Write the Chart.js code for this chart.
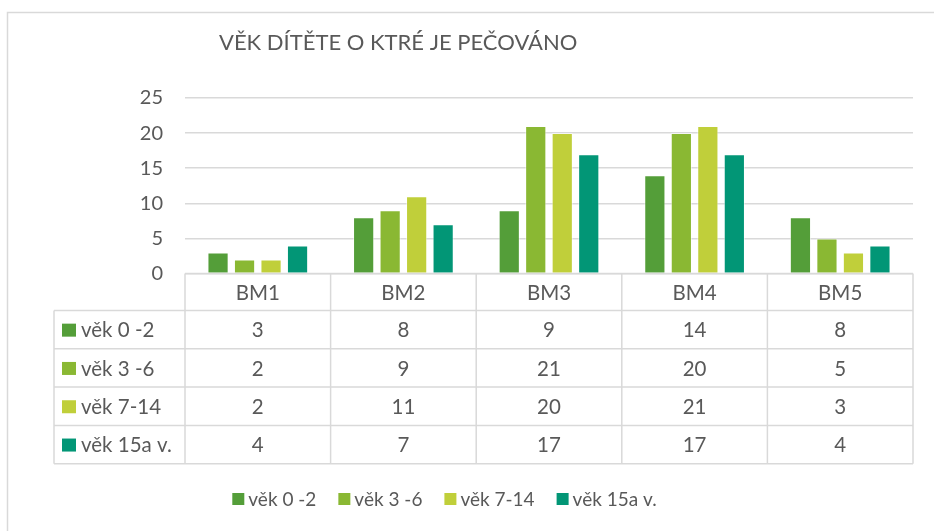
<!DOCTYPE html>
<html>
<head>
<meta charset="utf-8">
<script src="https://cdn.jsdelivr.net/npm/chart.js@4.4.1/dist/chart.umd.min.js"></script>
<style>
html,body{margin:0;padding:0;background:#fff;}
#wrap{width:934px;height:531px;position:relative;}
</style>
</head>
<body>
<div id="wrap"><canvas id="c" width="934" height="531"></canvas></div>
<script>
const titleText = 'VĚK DÍTĚTE O KTRÉ JE PEČOVÁNO';
const categories = ['BM1', 'BM2', 'BM3', 'BM4', 'BM5'];
const seriesNames = ['věk 0 -2', 'věk 3 -6', 'věk 7-14', 'věk 15a v.'];
const age0to2 = [3, 8, 9, 14, 8];
const age3to6 = [2, 9, 21, 20, 5];
const age7to14 = [2, 11, 20, 21, 3];
const age15plus = [4, 7, 17, 17, 4];
const yTicks = [0, 5, 10, 15, 20, 25];
const colors = ['#549E39', '#8AB833', '#C0CF3A', '#029676'];

const FONT = 'Lato, "Open Sans", sans-serif';
const TXT = '#595959';
const LINE = '#d9d9d9';

const seriesValues = [age0to2, age3to6, age7to14, age15plus];

const framePlugin = {
  id: 'frame',
  beforeDraw(chart) {
    const ctx = chart.ctx;
    ctx.save();
    ctx.strokeStyle = LINE;
    ctx.lineWidth = 1.5;
    ctx.strokeRect(7.5, 12.5, 1000, 1000);
    ctx.fillStyle = TXT;
    ctx.font = '22px ' + FONT;
    ctx.textAlign = 'left';
    ctx.textBaseline = 'middle';
    ctx.fillText(titleText, 219, 43);
    ctx.restore();
  }
};

const tablePlugin = {
  id: 'dataTable',
  afterDraw(chart) {
    const ctx = chart.ctx;
    const a = chart.chartArea;
    const xs = chart.scales.x;
    const n = categories.length;
    const cw = (a.right - a.left) / n;
    const top = a.bottom;
    const headH = 37;
    const rowH = 38.3;
    const tableLeft = 54;
    const bottom = top + headH + rowH * seriesNames.length;
    ctx.save();
    ctx.strokeStyle = LINE;
    ctx.lineWidth = 1.5;
    const line = (x1, y1, x2, y2) => { ctx.beginPath(); ctx.moveTo(x1, y1); ctx.lineTo(x2, y2); ctx.stroke(); };
    line(a.left, top, a.right, top);
    for (let r = 0; r <= seriesNames.length; r++) {
      const y = top + headH + rowH * r;
      line(tableLeft, y, a.right, y);
    }
    for (let i = 0; i <= n; i++) {
      const xv = i < n ? xs.getPixelForValue(i) - cw / 2 : xs.getPixelForValue(n - 1) + cw / 2;
      line(xv, top, xv, bottom);
    }
    line(tableLeft, top + headH, tableLeft, bottom);

    ctx.fillStyle = TXT;
    ctx.font = '20.5px ' + FONT;
    ctx.textBaseline = 'middle';
    ctx.textAlign = 'center';
    categories.forEach((c, i) => ctx.fillText(c, xs.getPixelForValue(i), top + headH / 2 + 1));
    seriesNames.forEach((s, r) => {
      const yc = top + headH + rowH * r + rowH / 2 + 1;
      ctx.fillStyle = colors[r];
      ctx.fillRect(62, yc - 7, 14, 13);
      ctx.fillStyle = TXT;
      ctx.textAlign = 'left';
      ctx.fillText(s, 81, yc);
      ctx.textAlign = 'center';
      chart.data.datasets[r].data.forEach((v, i) => ctx.fillText(String(v), xs.getPixelForValue(i), yc));
    });

    // legend
    ctx.font = '19px ' + FONT;
    const box = 12, gapText = 4, spacing = 22;
    const widths = seriesNames.map(s => box + gapText + ctx.measureText(s).width);
    const total = widths.reduce((p, q) => p + q, 0) + spacing * (widths.length - 1);
    let lx = 444.5 - total / 2;
    const ly = 499;
    ctx.textAlign = 'left';
    seriesNames.forEach((s, r) => {
      ctx.fillStyle = colors[r];
      ctx.fillRect(lx, ly - 6, box, box);
      ctx.fillStyle = TXT;
      ctx.fillText(s, lx + box + gapText, ly + 1);
      lx += widths[r] + spacing;
    });
    ctx.restore();
  }
};

new Chart(document.getElementById('c'), {
  type: 'bar',
  data: {
    labels: categories,
    datasets: seriesNames.map((name, i) => ({
      label: name,
      data: seriesValues[i],
      backgroundColor: colors[i],
      borderColor: 'rgba(255,255,255,0.5)',
      borderWidth: 1,
      categoryPercentage: 0.728,
      barPercentage: 0.8
    }))
  },
  options: {
    responsive: false,
    animation: false,
    devicePixelRatio: 1,
    layout: { padding: { left: 0, right: 21, top: 98, bottom: 0 } },
    plugins: {
      legend: { display: false },
      tooltip: { enabled: false },
      title: { display: false }
    },
    scales: {
      x: {
        grid: { display: false },
        border: { display: false },
        ticks: { display: false },
        afterFit(s) { s.height = 531 - 273.5; }
      },
      y: {
        min: 0,
        max: 25,
        afterBuildTicks(s) { s.ticks = yTicks.map(v => ({ value: v })); },
        afterFit(s) { s.width = 185; },
        grid: { color: LINE, lineWidth: 1.5, drawTicks: false },
        border: { display: false },
        ticks: { color: TXT, font: { family: FONT, size: 20 }, padding: 22 }
      }
    }
  },
  plugins: [framePlugin, tablePlugin]
});
</script>
</body>
</html>
